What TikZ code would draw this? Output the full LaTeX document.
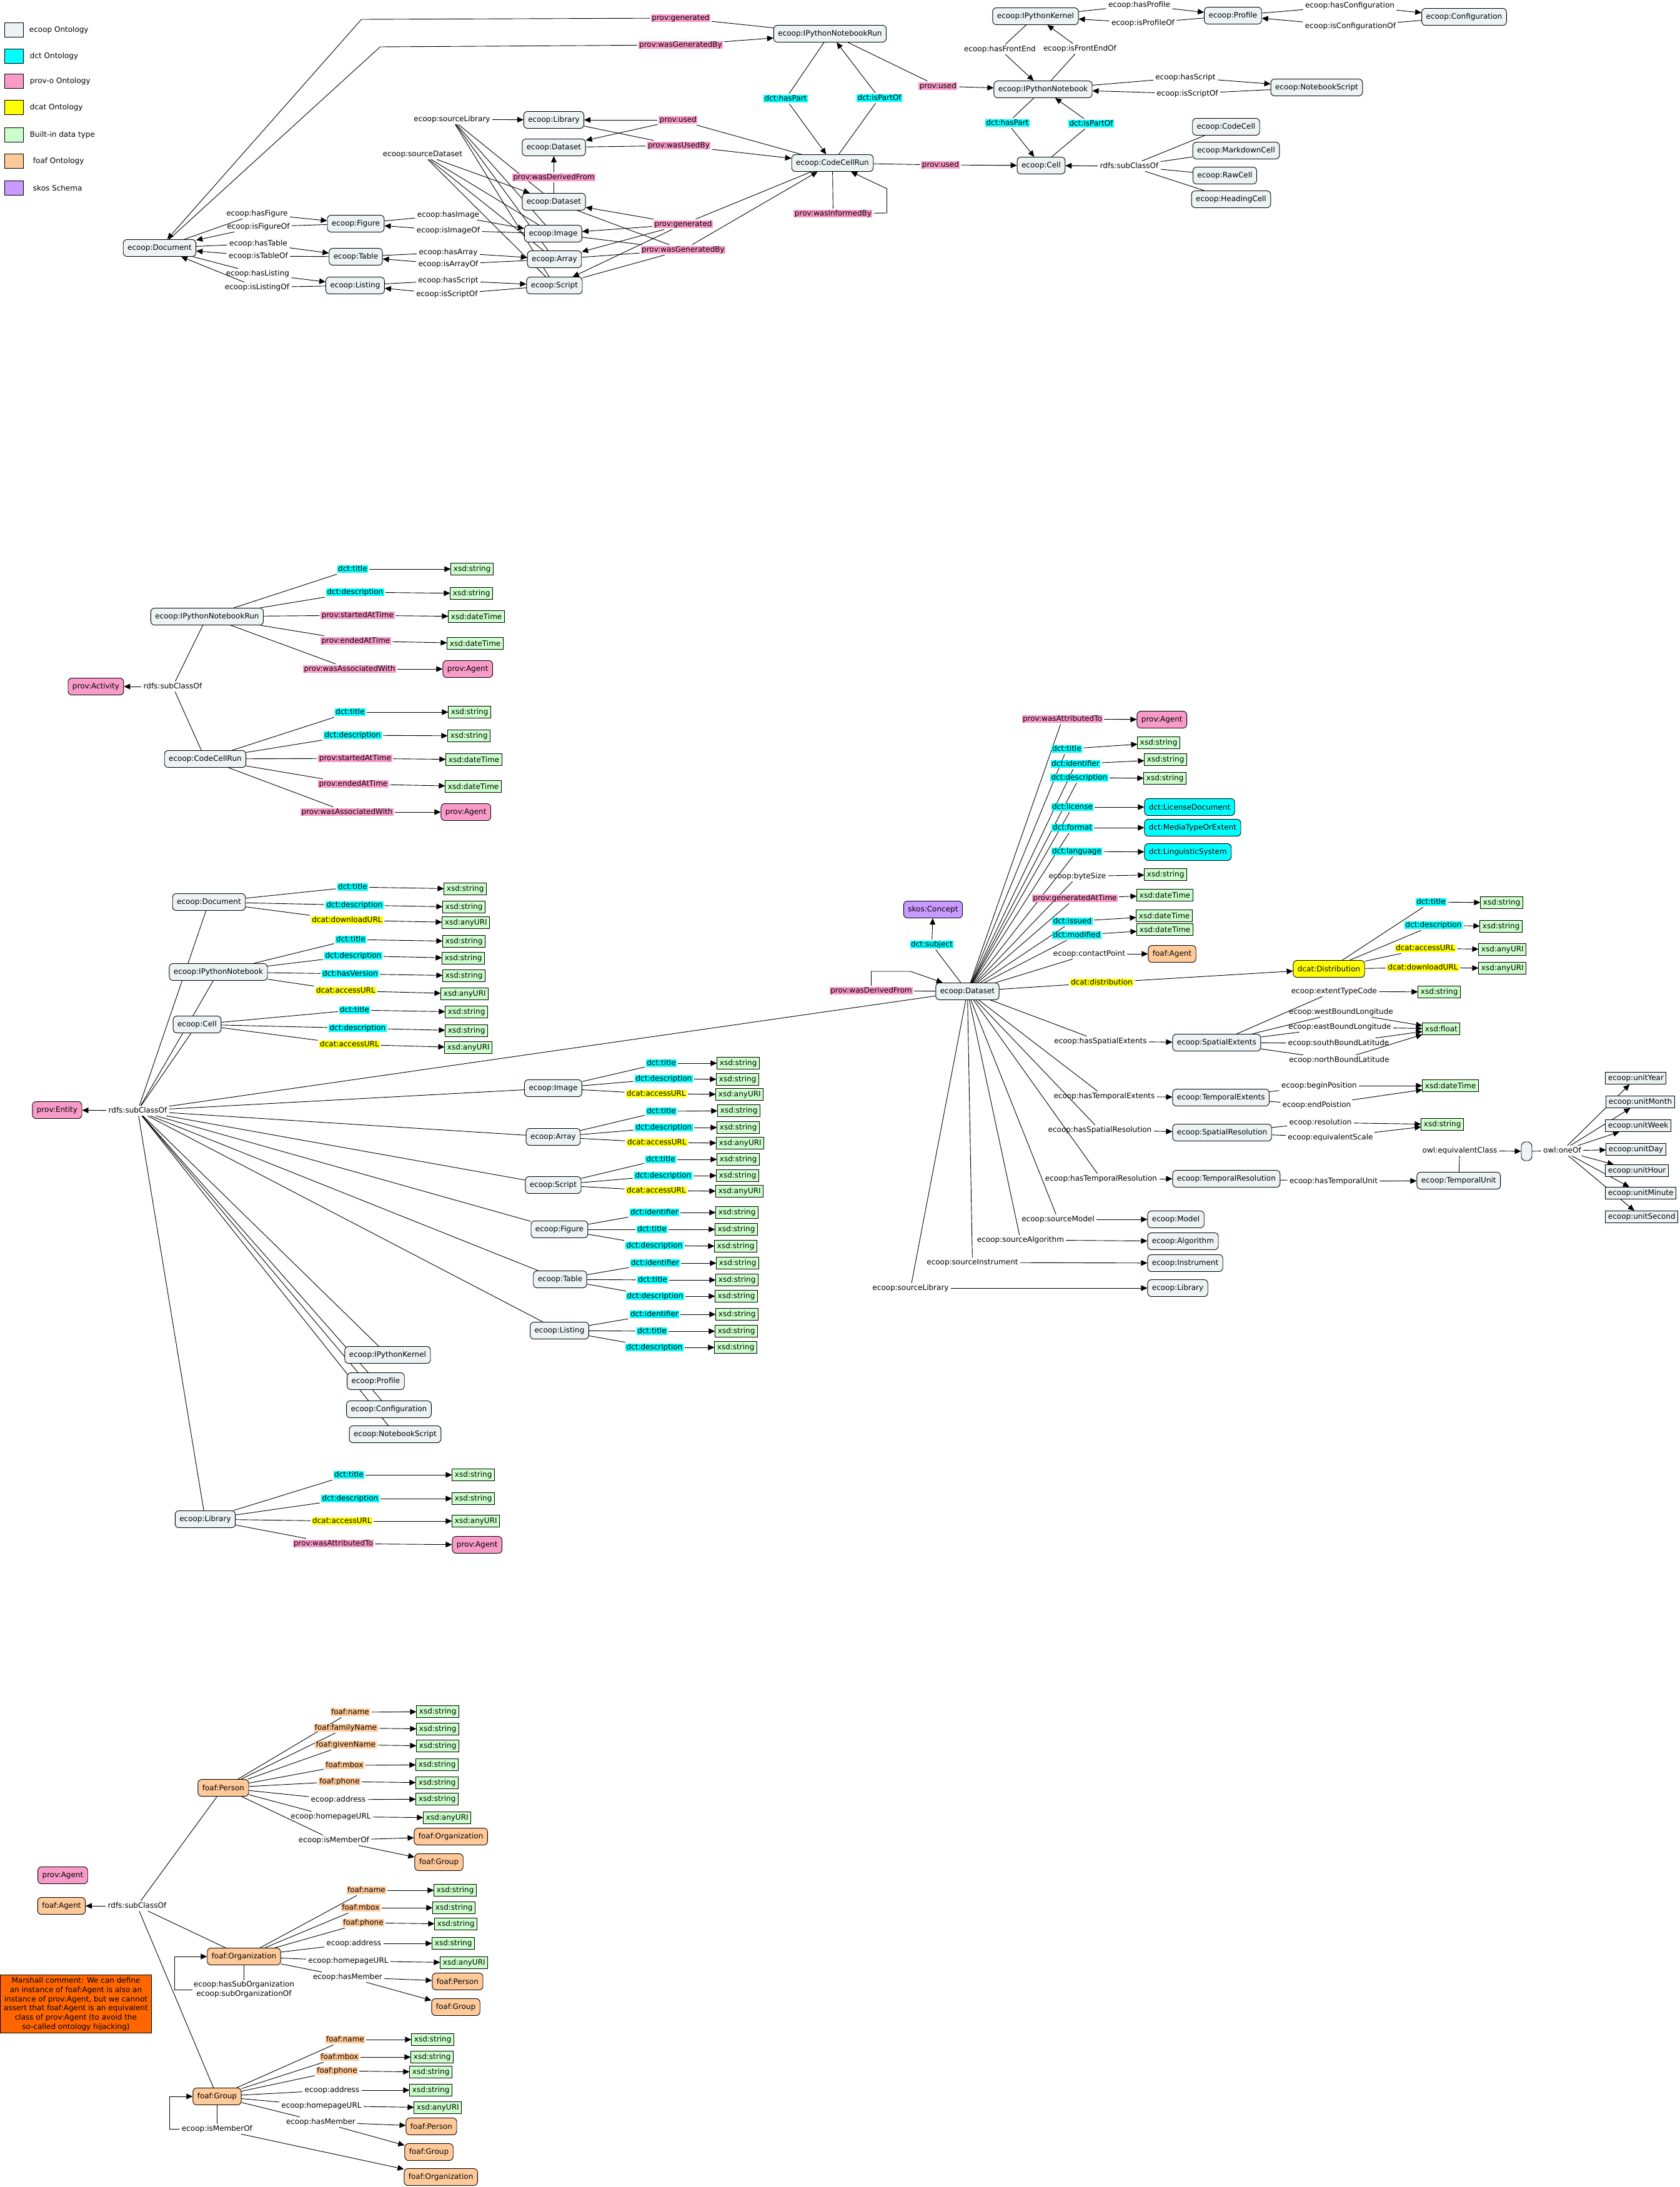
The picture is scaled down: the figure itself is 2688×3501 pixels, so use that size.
\documentclass[tikz,border=0pt]{standalone}
\usepackage{fontspec}
\setmainfont{DejaVu Sans}
\usetikzlibrary{arrows.meta}
\pgfdeclarelayer{paper}
\pgfdeclarelayer{bg}
\pgfsetlayers{paper,bg,main}
\definecolor{ecf}{HTML}{EDF3F5}
\definecolor{pvc}{HTML}{F99BC8}
\definecolor{dcc}{HTML}{00FFFF}
\definecolor{ylc}{HTML}{FFFF00}
\definecolor{bic}{HTML}{CCFFCC}
\definecolor{foc}{HTML}{FFC999}
\definecolor{skc}{HTML}{C99AFF}
\definecolor{mcc}{HTML}{FF6600}
\tikzset{
  every node/.style={font=\fontsize{12}{14}\selectfont},
  cls/.style={draw, rounded corners=6pt, minimum height=27pt, inner xsep=7pt, inner ysep=0pt, line width=0.9pt},
  ec/.style={cls, fill=ecf},
  pvb/.style={cls, fill=pvc},
  dcb/.style={cls, fill=dcc},
  ylb/.style={cls, fill=ylc},
  fob/.style={cls, fill=foc},
  skb/.style={cls, fill=skc},
  dt/.style={draw, fill=bic, minimum height=19pt, inner xsep=4pt, inner ysep=0pt, line width=0.9pt},
  un/.style={draw, fill=ecf, minimum height=19pt, inner xsep=4pt, inner ysep=0pt, line width=0.9pt},
  lb/.style={inner xsep=1.5pt, inner ysep=0.5pt, outer sep=2pt, text height=9pt, text depth=2.5pt},
  lpv/.style={lb, fill=pvc},
  ldc/.style={lb, fill=dcc},
  lyl/.style={lb, fill=ylc},
  lfo/.style={lb, fill=foc},
  ln/.style={line width=0.9pt},
  ar/.style={ln, -{Triangle[length=10pt,width=9pt]}},
  lgbox/.style={draw, minimum width=29pt, minimum height=23pt, inner sep=0pt, line width=0.9pt},
}
\newcommand\mkprop[8]{%
  \node[#3] (#1l) at (#4) {#5};
  \node[#6, anchor=west] (#1t) at (#7) {#8};
  \draw[ln] (#2) -- (#1l);
  \draw[ar] (#1l) -- (#1t);
}
\begin{document}
\begin{tikzpicture}[x=1pt,y=-1pt]
\begin{pgfonlayer}{paper}
\path[use as bounding box, fill=white] (0,0) rectangle (2688,3501);
\end{pgfonlayer}

% ================= legend
\foreach \y/\c/\t/\x in {48/ecf/ecoop Ontology/43, 90/dcc/dct Ontology/44, 130/pvc/prov-o Ontology/44, 172/ylc/dcat Ontology/44, 216/bic/Built-in data type/44, 258/foc/foaf Ontology/49, 301/skc/skos Schema/49}
  {\node[lgbox, fill=\c] (lg\y) at (22,\y) {};
   \node[anchor=west] (lt\y) at (\x,\y) {\t};}

% ================= top section
\node[ec] (doc) at (255,397) {ecoop:Document};
\node[ec] (fig) at (569,358) {ecoop:Figure};
\node[ec] (tab) at (569,411) {ecoop:Table};
\node[ec] (lst) at (568,457) {ecoop:Listing};
\node[ec] (tlib) at (886,192) {ecoop:Library};
\node[ec] (tds1) at (886,236) {ecoop:Dataset};
\node[ec] (tds2) at (886,323) {ecoop:Dataset};
\node[ec] (timg) at (885,374) {ecoop:Image};
\node[ec] (tarr) at (887,415) {ecoop:Array};
\node[ec] (tscr) at (887,457) {ecoop:Script};
\node[ec] (nbr) at (1328,54) {ecoop:IPythonNotebookRun};
\node[ec] (ccr) at (1332,261) {ecoop:CodeCellRun};
\node[ec] (krn) at (1657,26) {ecoop:IPythonKernel};
\node[ec] (prf) at (1973,25) {ecoop:Profile};
\node[ec] (cfg) at (2343,27) {ecoop:Configuration};
\node[ec] (nb) at (1669,143) {ecoop:IPythonNotebook};
\node[ec] (nbs) at (2107,140) {ecoop:NotebookScript};
\node[ec] (cell) at (1666,265) {ecoop:Cell};
\node[ec] (codecell) at (1962,203) {ecoop:CodeCell};
\node[ec] (mdcell) at (1978,241) {ecoop:MarkdownCell};
\node[ec] (rawcell) at (1960,281) {ecoop:RawCell};
\node[ec] (headcell) at (1970,319) {ecoop:HeadingCell};

\node[lpv] (gen1) at (1089,29) {prov:generated};
\node[lpv] (wgb1) at (1089,72) {prov:wasGeneratedBy};
\node[ldc] (hp1) at (1257,158) {dct:hasPart};
\node[ldc] (ipo1) at (1407,157) {dct:isPartOf};
\node[lpv] (used1) at (1085,192) {prov:used};
\node[lpv] (wub) at (1086,233) {prov:wasUsedBy};
\node[lpv] (wdf1) at (886,284) {prov:wasDerivedFrom};
\node[lpv] (gen2) at (1093,359) {prov:generated};
\node[lpv] (wgb2) at (1093,400) {prov:wasGeneratedBy};
\node[lpv] (wib) at (1333,342) {prov:wasInformedBy};
\node[lpv] (used2) at (1501,138) {prov:used};
\node[lpv] (used3) at (1505,264) {prov:used};
\node[lb] (hprof) at (1823,8) {ecoop:hasProfile};
\node[lb] (iprof) at (1829,37) {ecoop:isProfileOf};
\node[lb] (hconf) at (2160,9) {ecoop:hasConfiguration};
\node[lb] (iconf) at (2161,42) {ecoop:isConfigurationOf};
\node[lb] (hfe) at (1600,79) {ecoop:hasFrontEnd};
\node[lb] (ife) at (1728,78) {ecoop:isFrontEndOf};
\node[lb] (hscr2) at (1897,124) {ecoop:hasScript};
\node[lb] (iscr2) at (1900,150) {ecoop:isScriptOf};
\node[ldc] (hp2) at (1612,197) {dct:hasPart};
\node[ldc] (ipo2) at (1746,198) {dct:isPartOf};
\node[lb] (sc1) at (1807,266) {rdfs:subClassOf};
\node[lb] (srclib) at (723,191) {ecoop:sourceLibrary};
\node[lb] (srcds) at (676,247) {ecoop:sourceDataset};
\node[lb] (hfig) at (411,342) {ecoop:hasFigure};
\node[lb] (ifig) at (413,363) {ecoop:isFigureOf};
\node[lb] (htab) at (413,390) {ecoop:hasTable};
\node[lb] (itab) at (413,410) {ecoop:isTableOf};
\node[lb] (hlst) at (412,438) {ecoop:hasListing};
\node[lb] (ilst) at (411,460) {ecoop:isListingOf};
\node[lb] (himg) at (717,344) {ecoop:hasImage};
\node[lb] (iimg) at (717,369) {ecoop:isImageOf};
\node[lb] (harr) at (717,404) {ecoop:hasArray};
\node[lb] (iarr) at (717,423) {ecoop:isArrayOf};
\node[lb] (hscr) at (717,449) {ecoop:hasScript};
\node[lb] (iscr) at (715,471) {ecoop:isScriptOf};

\coordinate (g1a) at (578,31);
\coordinate (w1a) at (608,75);
\draw[ln] (nbr) -- (gen1);
\draw[ar] (gen1) -- (g1a) -- (doc);
\draw[ln] (doc) -- (w1a) -- (wgb1);
\draw[ar] (wgb1) -- (nbr);
\draw[ln] (nbr) -- (hp1); \draw[ar] (hp1) -- (ccr);
\draw[ln] (ccr) -- (ipo1); \draw[ar] (ipo1) -- (nbr);
\draw[ln] (nbr) -- (used2); \draw[ar] (used2) -- (nb);
\draw[ln] (ccr) -- (used3); \draw[ar] (used3) -- (cell);
\draw[ln] (ccr) -- (used1); \draw[ar] (used1) -- (tlib); \draw[ar] (used1) -- (tds1);
\draw[ln] (tlib) -- (wub); \draw[ln] (tds1) -- (wub); \draw[ar] (wub) -- (ccr);
\draw[ln] (tds2) -- (wdf1); \draw[ar] (wdf1) -- (tds1);
\draw[ln] (ccr) -- (gen2);
\foreach \n in {tds2,timg,tarr,tscr} {\draw[ar] (gen2) -- (\n); \draw[ln] (\n) -- (wgb2);}
\draw[ar] (wgb2) -- (ccr);
\coordinate (wib1) at (1419,341);
\coordinate (wib2) at (1419,302);
\draw[ln] (ccr) -- (wib);
\draw[ar] (wib) -- (wib1) -- (wib2) -- (ccr);
\draw[ar] (srclib) -- (tlib);
\draw[ar] (srcds) -- (tds2);
\draw[ln] (doc) -- (hfig); \draw[ar] (hfig) -- (fig);
\draw[ln] (fig) -- (ifig); \draw[ar] (ifig) -- (doc);
\draw[ln] (doc) -- (htab); \draw[ar] (htab) -- (tab);
\draw[ln] (tab) -- (itab); \draw[ar] (itab) -- (doc);
\draw[ln] (doc) -- (hlst); \draw[ar] (hlst) -- (lst);
\draw[ln] (lst) -- (ilst); \draw[ar] (ilst) -- (doc);
\draw[ln] (fig) -- (himg); \draw[ar] (himg) -- (timg);
\draw[ln] (timg) -- (iimg); \draw[ar] (iimg) -- (fig);
\draw[ln] (tab) -- (harr); \draw[ar] (harr) -- (tarr);
\draw[ln] (tarr) -- (iarr); \draw[ar] (iarr) -- (tab);
\draw[ln] (lst) -- (hscr); \draw[ar] (hscr) -- (tscr);
\draw[ln] (tscr) -- (iscr); \draw[ar] (iscr) -- (lst);
\draw[ln] (krn) -- (hprof); \draw[ar] (hprof) -- (prf);
\draw[ln] (prf) -- (iprof); \draw[ar] (iprof) -- (krn);
\draw[ln] (prf) -- (hconf); \draw[ar] (hconf) -- (cfg);
\draw[ln] (cfg) -- (iconf); \draw[ar] (iconf) -- (prf);
\draw[ln] (krn) -- (hfe); \draw[ar] (hfe) -- (nb);
\draw[ln] (nb) -- (ife); \draw[ar] (ife) -- (krn);
\draw[ln] (nb) -- (hscr2); \draw[ar] (hscr2) -- (nbs);
\draw[ln] (nbs) -- (iscr2); \draw[ar] (iscr2) -- (nb);
\draw[ln] (nb) -- (hp2); \draw[ar] (hp2) -- (cell);
\draw[ln] (cell) -- (ipo2); \draw[ar] (ipo2) -- (nb);
\foreach \n in {codecell,mdcell,rawcell,headcell} \draw[ln] (\n) -- (sc1);
\draw[ar] (sc1) -- (cell);

% ================= activities
\node[ec] (nbr2) at (331,987) {ecoop:IPythonNotebookRun};
\node[ec] (ccr2) at (328,1215) {ecoop:CodeCellRun};
\node[pvb] (act) at (153,1099) {prov:Activity};
\node[lb] (sc2) at (276,1099) {rdfs:subClassOf};
\draw[ln] (nbr2) -- (sc2); \draw[ln] (ccr2) -- (sc2); \draw[ar] (sc2) -- (act);
\mkprop{a1}{nbr2}{ldc}{564,911}{dct:title}{dt}{721,911}{xsd:string}
\mkprop{a2}{nbr2}{ldc}{568,948}{dct:description}{dt}{720,950}{xsd:string}
\mkprop{a3}{nbr2}{lpv}{572,985}{prov:startedAtTime}{dt}{717,987}{xsd:dateTime}
\mkprop{a4}{nbr2}{lpv}{569,1026}{prov:endedAtTime}{dt}{715,1030}{xsd:dateTime}
\mkprop{a5}{nbr2}{lpv}{559,1071}{prov:wasAssociatedWith}{pvb}{708,1071}{prov:Agent}
\mkprop{b1}{ccr2}{ldc}{560,1140}{dct:title}{dt}{717,1140}{xsd:string}
\mkprop{b2}{ccr2}{ldc}{564,1177}{dct:description}{dt}{716,1178}{xsd:string}
\mkprop{b3}{ccr2}{lpv}{568,1214}{prov:startedAtTime}{dt}{713,1216}{xsd:dateTime}
\mkprop{b4}{ccr2}{lpv}{565,1255}{prov:endedAtTime}{dt}{712,1259}{xsd:dateTime}
\mkprop{b5}{ccr2}{lpv}{555,1300}{prov:wasAssociatedWith}{pvb}{705,1300}{prov:Agent}

% ================= dataset
\node[ec] (dsx) at (1548,1587) {ecoop:Dataset};
\node[skb] (skos) at (1493,1456) {skos:Concept};
\node[ldc] (subj) at (1491,1512) {dct:subject};
\draw[ln] (dsx) -- (subj); \draw[ar] (subj) -- (skos);
\node[lpv] (wdf2) at (1394,1586) {prov:wasDerivedFrom};
\coordinate (wd1) at (1394,1555);
\coordinate (wd2) at (1457,1555);
\draw[ln] (dsx) -- (wdf2);
\draw[ar] (wdf2.north) -- (wd1) -- (wd2) -- (dsx);
\mkprop{c1}{dsx}{lpv}{1700,1151}{prov:wasAttributedTo}{pvb}{1819,1152}{prov:Agent}
\mkprop{c2}{dsx}{ldc}{1707,1199}{dct:title}{dt}{1820,1189}{xsd:string}
\mkprop{c3}{dsx}{ldc}{1721,1223}{dct:identifier}{dt}{1831,1216}{xsd:string}
\mkprop{c4}{dsx}{ldc}{1727,1245}{dct:description}{dt}{1830,1246}{xsd:string}
\mkprop{c5}{dsx}{ldc}{1716,1292}{dct:license}{dcb}{1831,1292}{dct:LicenseDocument}
\mkprop{c6}{dsx}{ldc}{1716,1325}{dct:format}{dcb}{1831,1325}{dct:MediaTypeOrExtent}
\mkprop{c7}{dsx}{ldc}{1723,1363}{dct:language}{dcb}{1831,1364}{dct:LinguisticSystem}
\mkprop{c8}{dsx}{lb}{1724,1403}{ecoop:byteSize}{dt}{1831,1400}{xsd:string}
\mkprop{c9}{dsx}{lpv}{1720,1438}{prov:generatedAtTime}{dt}{1819,1433}{xsd:dateTime}
\mkprop{c10}{dsx}{ldc}{1716,1475}{dct:issued}{dt}{1818,1466}{xsd:dateTime}
\mkprop{c11}{dsx}{ldc}{1723,1497}{dct:modified}{dt}{1819,1488}{xsd:dateTime}
\mkprop{c12}{dsx}{lb}{1743,1527}{ecoop:contactPoint}{fob}{1837,1527}{foaf:Agent}
\mkprop{c13}{dsx}{lyl}{1763,1573}{dcat:distribution}{ylb}{2069,1551}{dcat:Distribution}
\mkprop{d1}{c13t}{ldc}{2290,1444}{dct:title}{dt}{2369,1445}{xsd:string}
\mkprop{d2}{c13t}{ldc}{2294,1481}{dct:description}{dt}{2368,1483}{xsd:string}
\mkprop{d3}{c13t}{lyl}{2281,1518}{dcat:accessURL}{dt}{2366,1520}{xsd:anyURI}
\mkprop{d4}{c13t}{lyl}{2277,1549}{dcat:downloadURL}{dt}{2366,1550}{xsd:anyURI}

\mkprop{e0}{dsx}{lb}{1761,1667}{ecoop:hasSpatialExtents}{ec}{1876,1669}{ecoop:SpatialExtents}
\mkprop{e1}{e0t}{lb}{2135,1587}{ecoop:extentTypeCode}{dt}{2269,1588}{xsd:string}
\node[dt, anchor=west] (flt) at (2276,1647) {xsd:float};
\node[lb] (e2l) at (2146,1620) {ecoop:westBoundLongitude};
\node[lb] (e3l) at (2144,1644) {ecoop:eastBoundLongitude};
\node[lb] (e4l) at (2142,1670) {ecoop:southBoundLatitude};
\node[lb] (e5l) at (2143,1697) {ecoop:northBoundLatitude};
\foreach \n in {e2l,e3l,e4l,e5l} {\draw[ln] (e0t) -- (\n); \draw[ar] (\n) -- (flt);}

\mkprop{f0}{dsx}{lb}{1767,1755}{ecoop:hasTemporalExtents}{ec}{1876,1757}{ecoop:TemporalExtents}
\node[dt, anchor=west] (dtm) at (2276,1738) {xsd:dateTime};
\node[lb] (f1l) at (2111,1738) {ecoop:beginPosition};
\node[lb] (f2l) at (2107,1769) {ecoop:endPoistion};
\foreach \n in {f1l,f2l} {\draw[ln] (f0t) -- (\n); \draw[ar] (\n) -- (dtm);}

\mkprop{g0}{dsx}{lb}{1760,1809}{ecoop:hasSpatialResolution}{ec}{1876,1813}{ecoop:SpatialResolution}
\node[dt, anchor=west] (strr) at (2274,1800) {xsd:string};
\node[lb] (g1l) at (2113,1797) {ecoop:resolution};
\node[lb] (g2l) at (2129,1821) {ecoop:equivalentScale};
\foreach \n in {g1l,g2l} {\draw[ln] (g0t) -- (\n); \draw[ar] (\n) -- (strr);}

\mkprop{h0}{dsx}{lb}{1762,1887}{ecoop:hasTemporalResolution}{ec}{1876,1887}{ecoop:TemporalResolution}
\mkprop{h1}{h0t}{lb}{2134,1891}{ecoop:hasTemporalUnit}{ec}{2267,1890}{ecoop:TemporalUnit}
\node[lb] (eqc) at (2336,1842) {owl:equivalentClass};
\node[draw, fill=ecf, rounded corners=7pt, minimum width=17pt, minimum height=30pt, inner sep=0pt, line width=0.9pt] (blank) at (2443,1843) {};
\node[lb] (oneof) at (2500,1842) {owl:oneOf};
\draw[ln] (h1t) -- (eqc); \draw[ar] (eqc) -- (blank); \draw[ln] (blank) -- (oneof);
\node[un, anchor=west] (u1) at (2569,1726) {ecoop:unitYear};
\node[un, anchor=west] (u2) at (2570,1764) {ecoop:unitMonth};
\node[un, anchor=west] (u3) at (2569,1802) {ecoop:unitWeek};
\node[un, anchor=west] (u4) at (2570,1840) {ecoop:unitDay};
\node[un, anchor=west] (u5) at (2569,1874) {ecoop:unitHour};
\node[un, anchor=west] (u6) at (2569,1910) {ecoop:unitMinute};
\node[un, anchor=west] (u7) at (2569,1948) {ecoop:unitSecond};

\mkprop{s1}{dsx}{lb}{1693,1952}{ecoop:sourceModel}{ec}{1836,1952}{ecoop:Model}
\mkprop{s2}{dsx}{lb}{1633,1985}{ecoop:sourceAlgorithm}{ec}{1836,1987}{ecoop:Algorithm}
\mkprop{s3}{dsx}{lb}{1556,2021}{ecoop:sourceInstrument}{ec}{1836,2022}{ecoop:Instrument}
\mkprop{s4}{dsx}{lb}{1457,2062}{ecoop:sourceLibrary}{ec}{1836,2062}{ecoop:Library}

% ================= entities
\node[pvb] (ent) at (91,1777) {prov:Entity};
\node[lb] (sc3) at (220,1778) {rdfs:subClassOf};
\draw[ar] (sc3) -- (ent);
\node[ec] (doc2) at (334,1444) {ecoop:Document};
\node[ec] (nb2) at (349,1556) {ecoop:IPythonNotebook};
\node[ec] (cell2) at (315,1640) {ecoop:Cell};
\node[ec] (img2) at (885,1742) {ecoop:Image};
\node[ec] (arr2) at (885,1820) {ecoop:Array};
\node[ec] (scr2) at (885,1897) {ecoop:Script};
\node[ec] (fig2) at (895,1968) {ecoop:Figure};
\node[ec] (tab2) at (896,2048) {ecoop:Table};
\node[ec] (lst2) at (895,2130) {ecoop:Listing};
\node[ec] (krn2) at (620,2169) {ecoop:IPythonKernel};
\node[ec] (prf2) at (601,2211) {ecoop:Profile};
\node[ec] (cfg2) at (622,2256) {ecoop:Configuration};
\node[ec] (nbs2) at (632,2296) {ecoop:NotebookScript};
\node[ec] (lib2) at (328,2432) {ecoop:Library};

\mkprop{k1}{doc2}{ldc}{564,1420}{dct:title}{dt}{710,1423}{xsd:string}
\mkprop{k2}{doc2}{ldc}{567,1449}{dct:description}{dt}{708,1452}{xsd:string}
\mkprop{k3}{doc2}{lyl}{555,1473}{dcat:downloadURL}{dt}{707,1477}{xsd:anyURI}
\mkprop{k4}{nb2}{ldc}{561,1504}{dct:title}{dt}{708,1507}{xsd:string}
\mkprop{k5}{nb2}{ldc}{565,1530}{dct:description}{dt}{707,1534}{xsd:string}
\mkprop{k6}{nb2}{ldc}{560,1559}{dct:hasVersion}{dt}{708,1562}{xsd:string}
\mkprop{k7}{nb2}{lyl}{553,1586}{dcat:accessURL}{dt}{705,1591}{xsd:anyURI}
\mkprop{k8}{cell2}{ldc}{567,1617}{dct:title}{dt}{712,1620}{xsd:string}
\mkprop{k9}{cell2}{ldc}{572,1646}{dct:description}{dt}{712,1650}{xsd:string}
\mkprop{k10}{cell2}{lyl}{559,1672}{dcat:accessURL}{dt}{711,1677}{xsd:anyURI}
\mkprop{m1}{img2}{ldc}{1058,1702}{dct:title}{dt}{1147,1702}{xsd:string}
\mkprop{m2}{img2}{ldc}{1062,1727}{dct:description}{dt}{1146,1728}{xsd:string}
\mkprop{m3}{img2}{lyl}{1050,1751}{dcat:accessURL}{dt}{1145,1752}{xsd:anyURI}
\mkprop{m4}{arr2}{ldc}{1058,1779}{dct:title}{dt}{1148,1778}{xsd:string}
\mkprop{m5}{arr2}{ldc}{1062,1805}{dct:description}{dt}{1147,1805}{xsd:string}
\mkprop{m6}{arr2}{lyl}{1051,1829}{dcat:accessURL}{dt}{1146,1830}{xsd:anyURI}
\mkprop{m7}{scr2}{ldc}{1057,1856}{dct:title}{dt}{1147,1856}{xsd:string}
\mkprop{m8}{scr2}{ldc}{1061,1882}{dct:description}{dt}{1146,1882}{xsd:string}
\mkprop{m9}{scr2}{lyl}{1050,1906}{dcat:accessURL}{dt}{1145,1907}{xsd:anyURI}
\mkprop{n1}{fig2}{ldc}{1047,1941}{dct:identifier}{dt}{1145,1941}{xsd:string}
\mkprop{n2}{fig2}{ldc}{1043,1968}{dct:title}{dt}{1144,1968}{xsd:string}
\mkprop{n3}{fig2}{ldc}{1047,1994}{dct:description}{dt}{1143,1995}{xsd:string}
\mkprop{n4}{tab2}{ldc}{1048,2022}{dct:identifier}{dt}{1146,2022}{xsd:string}
\mkprop{n5}{tab2}{ldc}{1044,2049}{dct:title}{dt}{1145,2049}{xsd:string}
\mkprop{n6}{tab2}{ldc}{1048,2075}{dct:description}{dt}{1144,2075}{xsd:string}
\mkprop{n7}{lst2}{ldc}{1047,2104}{dct:identifier}{dt}{1145,2104}{xsd:string}
\mkprop{n8}{lst2}{ldc}{1043,2131}{dct:title}{dt}{1144,2131}{xsd:string}
\mkprop{n9}{lst2}{ldc}{1047,2157}{dct:description}{dt}{1143,2157}{xsd:string}
\mkprop{q1}{lib2}{ldc}{558,2361}{dct:title}{dt}{723,2361}{xsd:string}
\mkprop{q2}{lib2}{ldc}{560,2399}{dct:description}{dt}{723,2399}{xsd:string}
\mkprop{q3}{lib2}{lyl}{547,2435}{dcat:accessURL}{dt}{723,2435}{xsd:anyURI}
\mkprop{q4}{lib2}{lpv}{533,2471}{prov:wasAttributedTo}{pvb}{723,2473}{prov:Agent}

% ================= foaf
\node[fob] (fper) at (357,2862) {foaf:Person};
\mkprop{r1}{fper}{lfo}{560,2741}{foaf:name}{dt}{666,2740}{xsd:string}
\mkprop{r2}{fper}{lfo}{553,2766}{foaf:familyName}{dt}{666,2768}{xsd:string}
\mkprop{r3}{fper}{lfo}{553,2793}{foaf:givenName}{dt}{666,2795}{xsd:string}
\mkprop{r4}{fper}{lfo}{551,2826}{foaf:mbox}{dt}{665,2825}{xsd:string}
\mkprop{r5}{fper}{lfo}{543,2852}{foaf:phone}{dt}{665,2854}{xsd:string}
\mkprop{r6}{fper}{lb}{541,2881}{ecoop:address}{dt}{665,2880}{xsd:string}
\mkprop{r7}{fper}{lb}{529,2908}{ecoop:homepageURL}{dt}{677,2910}{xsd:anyURI}
\mkprop{r8}{fper}{lb}{534,2946}{ecoop:isMemberOf}{fob}{662,2940}{foaf:Organization}
\node[fob, anchor=west] (r9t) at (663,2981) {foaf:Group};
\draw[ar] (r8l) -- (r9t);

\node[pvb] (pag) at (100,3002) {prov:Agent};
\node[fob] (fag) at (98,3051) {foaf:Agent};
\node[lb] (sc4) at (219,3051) {rdfs:subClassOf};
\draw[ar] (sc4) -- (fag);

\node[fob] (forg) at (390,3132) {foaf:Organization};
\mkprop{t1}{forg}{lfo}{586,3026}{foaf:name}{dt}{694,3026}{xsd:string}
\mkprop{t2}{forg}{lfo}{577,3054}{foaf:mbox}{dt}{692,3054}{xsd:string}
\mkprop{t3}{forg}{lfo}{581,3078}{foaf:phone}{dt}{695,3080}{xsd:string}
\mkprop{t4}{forg}{lb}{566,3111}{ecoop:address}{dt}{691,3111}{xsd:string}
\mkprop{t5}{forg}{lb}{557,3139}{ecoop:homepageURL}{dt}{704,3142}{xsd:anyURI}
\mkprop{t6}{forg}{lb}{556,3165}{ecoop:hasMember}{fob}{691,3172}{foaf:Person}
\node[fob, anchor=west] (t7t) at (690,3213) {foaf:Group};
\draw[ar] (t6l) -- (t7t);
\node[align=center, inner sep=2pt, font=\fontsize{12}{15}\selectfont] (subo) at (390,3185) {ecoop:hasSubOrganization\\ecoop:subOrganizationOf};
\draw[ln] (forg) -- (subo);
\draw[ar] (subo.west) -- ++(-28,0) |- (forg);

\node[draw, fill=mcc, align=center, inner sep=1pt, minimum width=242pt, minimum height=93pt, line width=0.9pt, font=\fontsize{12}{14.7}\selectfont] (mc) at (121,3208)
 {Marshall comment: We can define\\an instance of foaf:Agent is also an\\instance of prov:Agent, but we cannot\\assert that foaf:Agent is an equivalent\\class of prov:Agent (to avoid the\\so-called ontology hijacking)};

\node[fob] (fgrp) at (347,3356) {foaf:Group};
\mkprop{v1}{fgrp}{lfo}{552,3265}{foaf:name}{dt}{658,3265}{xsd:string}
\mkprop{v2}{fgrp}{lfo}{543,3293}{foaf:mbox}{dt}{657,3293}{xsd:string}
\mkprop{v3}{fgrp}{lfo}{539,3315}{foaf:phone}{dt}{655,3317}{xsd:string}
\mkprop{v4}{fgrp}{lb}{531,3346}{ecoop:address}{dt}{655,3346}{xsd:string}
\mkprop{v5}{fgrp}{lb}{514,3371}{ecoop:homepageURL}{dt}{662,3374}{xsd:anyURI}
\mkprop{v6}{fgrp}{lb}{513,3397}{ecoop:hasMember}{fob}{649,3404}{foaf:Person}
\node[fob, anchor=west] (v7t) at (647,3445) {foaf:Group};
\draw[ar] (v6l) -- (v7t);
\node[lb] (v8l) at (347,3408) {ecoop:isMemberOf};
\node[fob, anchor=west] (v8t) at (646,3485) {foaf:Organization};
\draw[ln] (fgrp) -- (v8l);
\draw[ar] (v8l) -- (v8t);
\draw[ar] (v8l.west) -- ++(-16,0) |- (fgrp);
\draw[ln] (fper) -- (sc4);
\draw[ln] (forg) -- (sc4);
\draw[ln] (fgrp) -- (sc4);

% ================= background connectors (pass under boxes)
\begin{pgfonlayer}{bg}
\foreach \n in {tds2,timg,tarr,tscr} \draw[ln] (\n) -- (srclib);
\foreach \n in {timg,tarr,tscr} \draw[ln] (\n) -- (srcds);
\foreach \n in {doc2,nb2,cell2,dsx,img2,arr2,scr2,fig2,tab2,lst2,krn2,prf2,cfg2,nbs2,lib2} \draw[ln] (\n) -- (sc3);
\foreach \n in {u1,u2,u3,u4,u5,u6,u7} \draw[ar] (oneof) -- (\n);
\end{pgfonlayer}
\end{tikzpicture}
\end{document}
